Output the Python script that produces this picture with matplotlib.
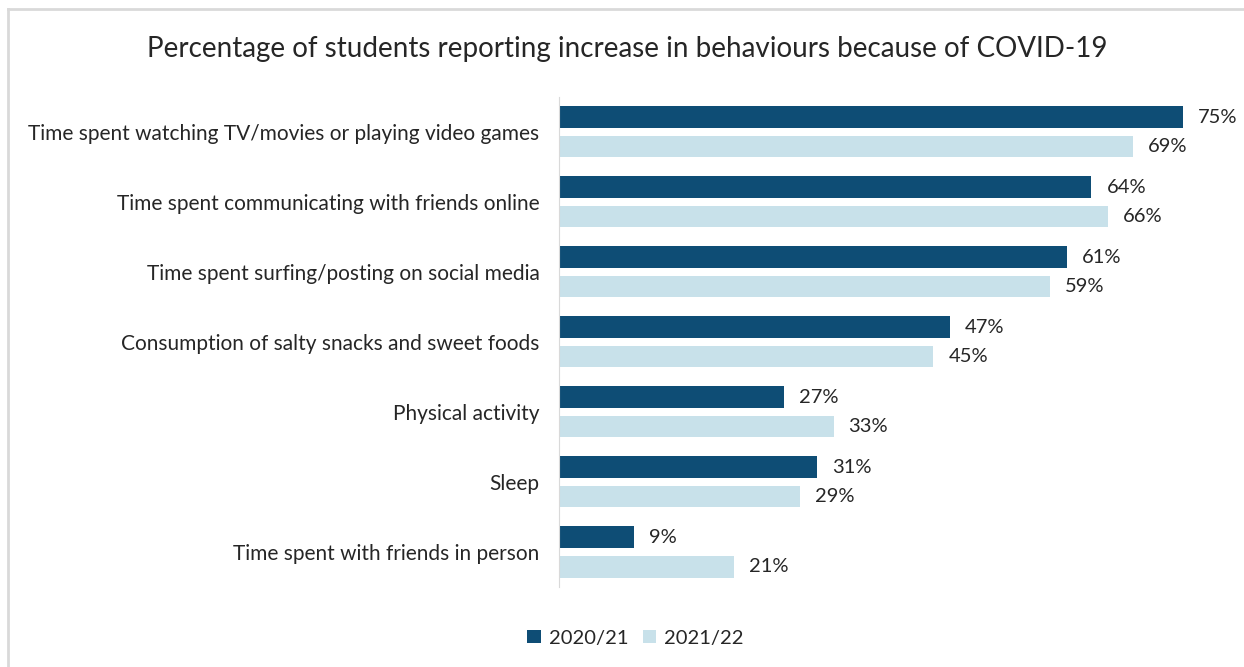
import numpy as np
import matplotlib.pyplot as plt
from matplotlib.lines import Line2D

categories = [
    "Time spent watching TV/movies or playing video games",
    "Time spent communicating with friends online",
    "Time spent surfing/posting on social media",
    "Consumption of salty snacks and sweet foods",
    "Physical activity",
    "Sleep",
    "Time spent with friends in person",
]
values_2020 = [75, 64, 61, 47, 27, 31, 9]
values_2021 = [69, 66, 59, 45, 33, 29, 21]
series_names = ["2020/21", "2021/22"]

DARK = "#0E4D75"
LIGHT = "#C8E1EA"
TEXT = "#262626"
BORDER = "#D9D9D9"

plt.rcParams['font.family'] = ['Lato', 'DejaVu Sans']

fig = plt.figure(figsize=(12.44, 6.67), dpi=100)
ax = fig.add_axes([0.4494, 0.120, 0.535, 0.735])

# chart border: only top and left edges are visible in the crop
bx, by = 8 / 1244, 1 - 9 / 667
fig.add_artist(Line2D([bx, bx], [0, by], transform=fig.transFigure, color=BORDER, lw=2))
fig.add_artist(Line2D([bx, 1], [by, by], transform=fig.transFigure, color=BORDER, lw=2))

y = np.arange(len(categories))
h = 0.31
off = 0.21
b1 = ax.barh(y - off, values_2020, height=h, color=DARK, label=series_names[0])
b2 = ax.barh(y + off, values_2021, height=h, color=LIGHT, label=series_names[1])

for bars, vals in ((b1, values_2020), (b2, values_2021)):
    for bar, v in zip(bars, vals):
        ax.text(v + 1.8, bar.get_y() + bar.get_height() / 2, f"{v}%",
                va="center", ha="left", fontsize=14.5, color=TEXT)

ax.set_ylim(len(categories) - 0.5, -0.5)
ax.set_xlim(0, 80)
ax.set_yticks(y)
ax.set_yticklabels(categories, fontsize=15, color=TEXT)
ax.tick_params(axis="y", length=0, pad=14)
ax.set_xticks([])
for s in ("top", "right", "bottom"):
    ax.spines[s].set_visible(False)
ax.spines["left"].set_color(BORDER)

fig.text(0.504, 0.927, "Percentage of students reporting increase in behaviours because of COVID-19",
         ha="center", va="center", fontsize=20, color=TEXT)

fig.legend(handles=[b1, b2], labels=series_names, loc="center", bbox_to_anchor=(0.511, 0.043),
           ncol=2, frameon=False, fontsize=14.5, handlelength=0.65, handleheight=0.65,
           handletextpad=0.4, columnspacing=0.75, labelcolor=TEXT)

fig.savefig("out.png", dpi=100, facecolor="white")
